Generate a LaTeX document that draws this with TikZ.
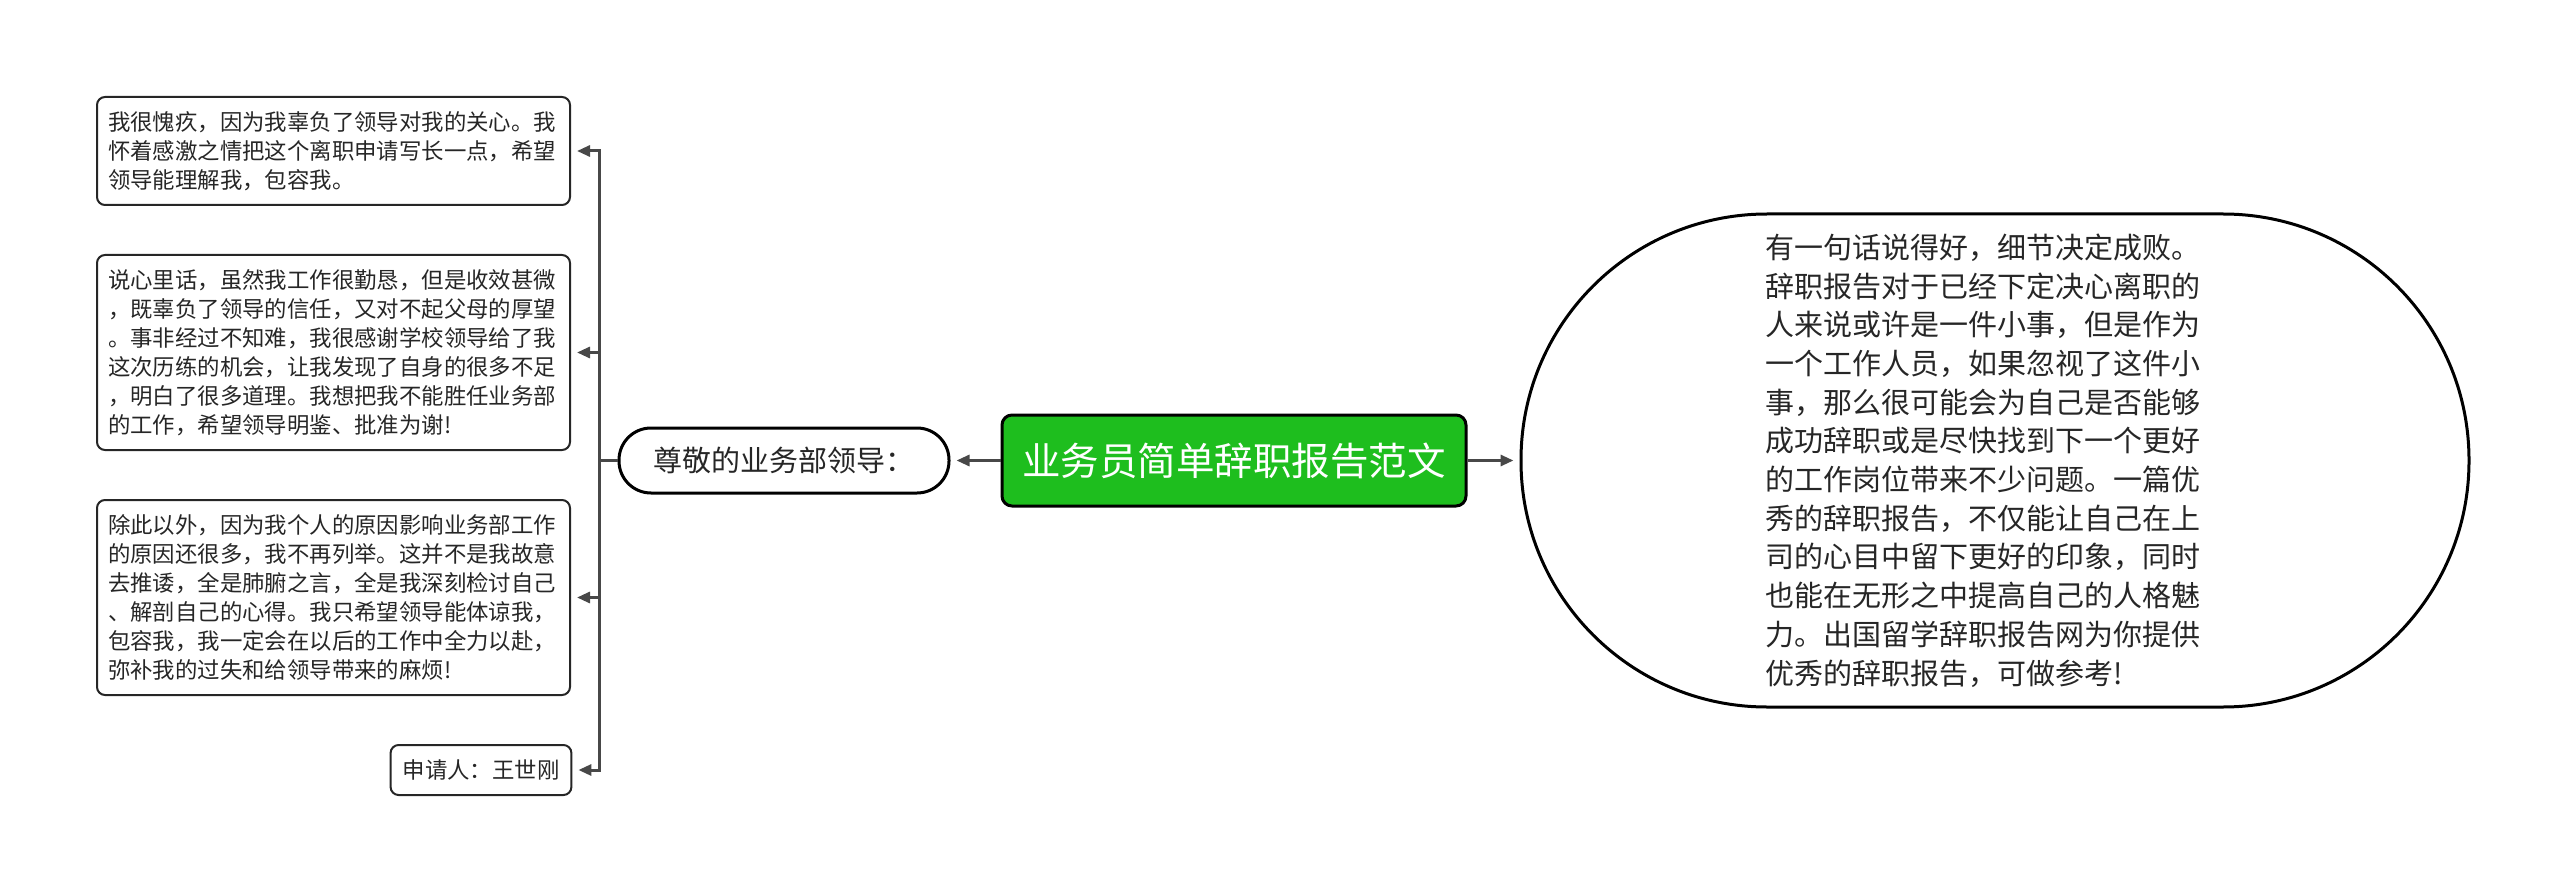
\documentclass[tikz,border=0pt]{standalone}
\usepackage{fontspec}
\setmainfont{Noto Sans CJK SC}
\usetikzlibrary{arrows.meta, positioning}
\definecolor{topicgreen}{RGB}{30,190,30}
\definecolor{linkgray}{RGB}{72,72,72}
\definecolor{inkgray}{RGB}{38,38,38}

\begin{document}
\begin{tikzpicture}[x=1pt, y=-1pt,
  topic/.style={draw=black, line width=3pt, rounded corners=10pt, fill=topicgreen, text=white,
    minimum width=464pt, minimum height=91pt, inner sep=0pt, font=\fontsize{38.5}{44}\selectfont},
  pill/.style={draw=black, line width=3pt, rounded corners=32pt, minimum width=330pt,
    minimum height=65pt, inner sep=0pt, text=inkgray, font=\fontsize{29}{34}\selectfont},
  note/.style={draw=inkgray, line width=2pt, rounded corners=8pt, text=inkgray, align=left,
    inner xsep=11pt, inner ysep=0pt, font=\fontsize{22.4}{29}\selectfont},
  link/.style={draw=linkgray, line width=3pt, -{Triangle[length=13pt,width=11pt]}, shorten >=6pt}]
  \useasboundingbox (0,0) rectangle (2560,893);

  % centre and the two main branches
  \node[topic] (title) at (1234,460.5) {业务员简单辞职报告范文};
  \node[pill, left=50pt of title] (greet) {尊敬的业务部领导：};
  \node[draw=black, line width=3pt, rounded corners=246pt, minimum width=948pt, minimum height=493pt,
    right=52pt of title, text=inkgray, text width=460pt, align=left,
    font=\fontsize{29}{38.7}\selectfont] (detail) {有一句话说得好，细节决定成败。\\
辞职报告对于已经下定决心离职的\\
人来说或许是一件小事，但是作为\\
一个工作人员，如果忽视了这件小\\
事，那么很可能会为自己是否能够\\
成功辞职或是尽快找到下一个更好\\
的工作岗位带来不少问题。一篇优\\
秀的辞职报告，不仅能让自己在上\\
司的心目中留下更好的印象，同时\\
也能在无形之中提高自己的人格魅\\
力。出国留学辞职报告网为你提供\\
优秀的辞职报告，可做参考!};

  % letter paragraphs on the left
  \node[note, text width=451pt, minimum height=108pt] (para1) at (333.5,151) {我很愧疚，因为我辜负了领导对我的关心。我\\
怀着感激之情把这个离职申请写长一点，希望\\
领导能理解我，包容我。};
  \node[note, text width=451pt, minimum height=195pt] (para2) at (333.5,352.5) {说心里话，虽然我工作很勤恳，但是收效甚微\\
，既辜负了领导的信任，又对不起父母的厚望\\
。事非经过不知难，我很感谢学校领导给了我\\
这次历练的机会，让我发现了自身的很多不足\\
，明白了很多道理。我想把我不能胜任业务部\\
的工作，希望领导明鉴、批准为谢!};
  \node[note, text width=451pt, minimum height=195pt] (para3) at (333.5,597.5) {除此以外，因为我个人的原因影响业务部工作\\
的原因还很多，我不再列举。这并不是我故意\\
去推诿，全是肺腑之言，全是我深刻检讨自己\\
、解剖自己的心得。我只希望领导能体谅我，\\
包容我，我一定会在以后的工作中全力以赴，\\
弥补我的过失和给领导带来的麻烦!};
  \node[note, inner xsep=12pt, minimum height=50pt] (sign) at (481,770) {申请人：王世刚};

  % connectors
  \draw[link] (title) -- (greet);
  \draw[link] (title) -- (detail);
  \coordinate[left=18pt of greet.west] (trunk);
  \draw[draw=linkgray, line width=3pt] (greet.west) -- (trunk);
  \foreach \p in {para1, para2, para3, sign}
    \draw[link] (trunk) |- (\p.east);
\end{tikzpicture}
\end{document}
